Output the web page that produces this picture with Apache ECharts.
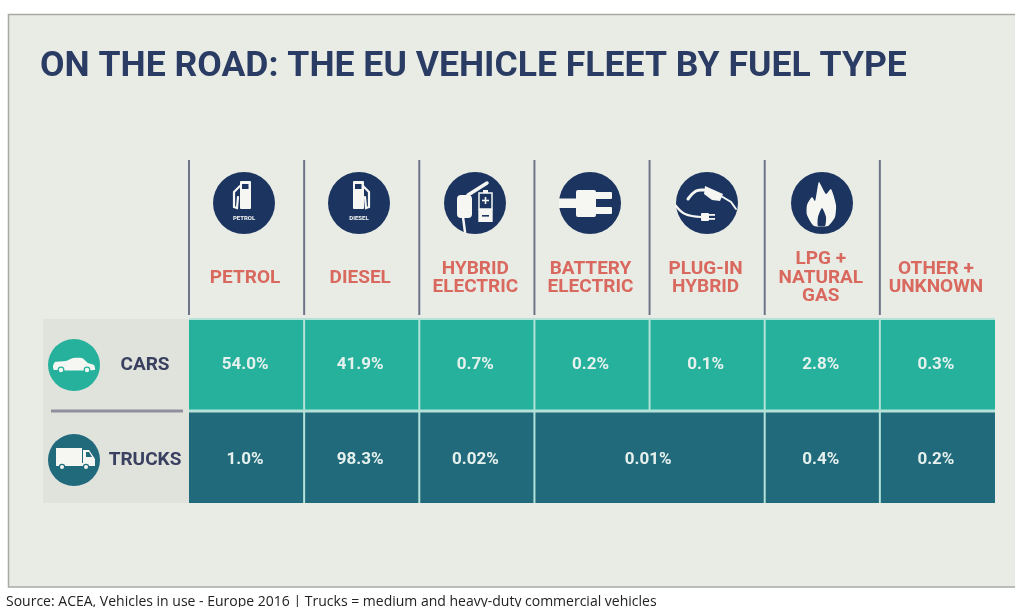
<!DOCTYPE html>
<html><head><meta charset="utf-8">
<style>html,body{margin:0;padding:0;background:#fff}#c{width:1015px;height:607px}</style>
<script src="https://cdn.jsdelivr.net/npm/echarts@6/dist/echarts.min.js"></script>
</head><body><div id="c"></div>
<script>
const titleText = 'ON THE ROAD: THE EU VEHICLE FLEET BY FUEL TYPE';
const sourceText = 'Source: ACEA, Vehicles in use - Europe 2016 | Trucks = medium and heavy-duty commercial vehicles';
const fuelTypes = ['PETROL','DIESEL','HYBRID\nELECTRIC','BATTERY\nELECTRIC','PLUG-IN\nHYBRID','LPG +\nNATURAL\nGAS','OTHER +\nUNKNOWN'];
const vehicleTypes = ['CARS','TRUCKS'];
const carValues   = [54.0, 41.9, 0.7, 0.2, 0.1, 2.8, 0.3];
const carColumns  = [0, 1, 2, 3, 4, 5, 6];
const carSpans    = [1, 1, 1, 1, 1, 1, 1];
const truckValues  = [1.0, 98.3, 0.02, 0.01, 0.4, 0.2];
const truckColumns = [0, 1, 2, 3, 5, 6];
const truckSpans   = [1, 1, 1, 2, 1, 1];

const TEAL='#25b19c', DARK='#206a7c', NAVY='#1b3560', WHITE='#f6f7f3', BG='#e9ebe5', FONT='Roboto, sans-serif';
const fmt = v => v.toFixed(v < 0.1 ? 2 : 1) + '%';
const cells = [];
carValues.forEach((v,i)=>cells.push([carColumns[i],0,carSpans[i],v]));
truckValues.forEach((v,i)=>cells.push([truckColumns[i],1,truckSpans[i],v]));

const fill = c => ({fill:c});
const rect=(x,y,w,h,c=WHITE,r=0)=>({type:'rect',shape:{x,y,width:w,height:h,r},style:fill(c)});
const circ=(cx,cy,r,c=WHITE)=>({type:'circle',shape:{cx,cy,r},style:fill(c)});
const poly=(points,c=WHITE,smooth=0)=>({type:'polygon',shape:{points,smooth},style:fill(c)});
const line=(points,w=1.6,c=WHITE,smooth=0)=>({type:'polyline',shape:{points,smooth},style:{stroke:c,lineWidth:w,fill:null,lineCap:'round'}});

const pump=(label,dir)=>[
  rect(dir>0?-4:-6,-22,11,28,WHITE,1),
  rect(dir>0?-2:-4,-19,6.5,5,NAVY),
  line([[dir*-4,-17],[dir*-10,-11],[dir*-10,4],[dir*-7,5],[dir*-6,-6]],2.2,WHITE),
  {type:'text',style:{text:label,x:0,y:15,fill:WHITE,font:'bold 6px '+FONT,align:'center',verticalAlign:'middle'}}
];
const icons=[
 {x:244,y:203,parts:pump('PETROL',1)},
 {x:359,y:203,parts:pump('DIESEL',-1)},
 {x:475,y:203,parts:[
   rect(-18,-8,15,23,WHITE,4),
   line([[-7,-8],[12,-20]],3.5),
   line([[-12,14],[-10,29]],2.5),
   rect(5,-9,11,14,NAVY),
   {type:'rect',shape:{x:4,y:-10,width:13,height:16},style:{stroke:WHITE,lineWidth:1.5,fill:null}},
   rect(8,-13,5,3),
   rect(9.7,-6,1.6,7), rect(7,-3.3,7,1.6),
   rect(3.3,6,14.4,13),
   rect(7,12,7,1.6,NAVY)
 ]},
 {x:590,y:203,parts:[
   rect(-31,-4.5,19,9.5),
   rect(-14,-13,20,27,WHITE,2),
   rect(5,-11,17,7,WHITE,1),
   rect(5,4,17,7,WHITE,1)
 ]},
 {x:707,y:203,parts:[
   poly([[-2,-17],[16,-9],[13,-2],[5,-3],[-3,-9]]),
   line([[-19,-4],[-11,-12],[-3,-13]],3,WHITE,0.4),
   line([[14,-7],[24,-1],[29,6]],2),
   line([[-31,3],[-22,11],[-6,14]],2.2,WHITE,0.4),
   rect(-6,10,8,8,WHITE,1),
   rect(2,11,6,1.8), rect(2,15,6,1.8)
 ]},
 {x:822,y:203,parts:[
   poly([[-3,-21],[4,-9],[9,-14],[14,2],[13,14],[6,23],[-8,23],[-15,12],[-15,2],[-10,-6],[-7,-2],[-5,-12]],WHITE,0.2),
   poly([[0,5],[4,14],[3,23],[-4,23],[-4,14]],NAVY,0.2)
 ]}
];
const graphics=[
  {type:'rect',shape:{x:8.5,y:14.5,width:1030,height:572.5},style:{fill:BG,stroke:'#a8aaa5',lineWidth:1.5}},
  {type:'rect',shape:{x:43,y:319,width:147,height:184},style:{fill:'#e0e2dc'}},
  {type:'rect',shape:{x:189,y:318,width:806,height:185},style:{fill:'#b4e2d8'}},
  {type:'rect',shape:{x:51,y:409.5,width:132,height:3},style:{fill:'#8d8f9c'}},
  {type:'text',style:{text:sourceText,x:6,y:602,fill:'#222',font:'14px "Open Sans", sans-serif',verticalAlign:'middle'}}
];
for(let i=0;i<7;i++){
  const x=189+i*806/7;
  graphics.push({type:'line',shape:{x1:x,y1:160,x2:x,y2:315},style:{stroke:'#6f7588',lineWidth:2}});
}
icons.forEach(ic=>graphics.push({type:'group',x:ic.x,y:ic.y,children:[circ(0,0,31,NAVY),...ic.parts]}));
graphics.push({type:'group',x:74,y:365,children:[
  circ(0,0,26,TEAL),
  poly([[-21,1],[-19,-3],[-8,-4],[-1,-7],[8,-7],[14,-2],[20,0],[21,5],[-20,5]],WHITE,0.15),
  circ(-13,5,3.4,TEAL),circ(-13,5,2.2),circ(13,5,3.4,TEAL),circ(13,5,2.2)
]});
graphics.push({type:'group',x:74,y:460,children:[
  circ(0,0,26,DARK),
  rect(-18,-12,26,15),
  rect(-18,3,39,3),
  poly([[9,-10],[15,-10],[21,-1],[21,3],[9,3]]),
  poly([[12,-8],[15,-8],[18,-3],[12,-3]],DARK),
  circ(-12,7,3.2,DARK),circ(-12,7,2),circ(12,7,3.2,DARK),circ(12,7,2)
]});

const rowStyle={color:'#3a4160',fontFamily:FONT,fontWeight:'bold',fontSize:19};
const chart=echarts.init(document.getElementById('c'),null,{renderer:'canvas'});
chart.setOption({
  animation:false,
  backgroundColor:'#ffffff',
  title:{text:titleText,left:40,top:49,padding:0,textStyle:{color:'#2a3c63',fontFamily:FONT,fontWeight:'bold',fontSize:35.6}},
  grid:{left:189,top:319,width:806,height:184},
  xAxis:{type:'category',position:'top',data:fuelTypes,
    axisLine:{show:false},axisTick:{show:false},splitLine:{show:false},
    axisLabel:{interval:0,margin:41,verticalAlign:'middle',padding:[0,3,0,0],color:'#d9695f',fontFamily:FONT,fontWeight:'bold',fontSize:19,lineHeight:18.5}},
  yAxis:{type:'category',inverse:true,data:vehicleTypes,
    axisLine:{show:false},axisTick:{show:false},splitLine:{show:false},
    axisLabel:{margin:44,align:'center',...rowStyle,
      formatter:v=>'{'+v+'|'+v+'}',
      rich:{CARS:{...rowStyle},TRUCKS:{...rowStyle,padding:[6,0,0,0]}}}},
  graphic:{elements:graphics},
  series:[{
    type:'custom',
    coordinateSystem:'cartesian2d',
    data:cells,
    encode:{x:0,y:1},
    clip:false,
    renderItem(params,api){
      const col=api.value(0),row=api.value(1),span=api.value(2),val=api.value(3);
      const c=api.coord([col,row]);
      const s=api.size([1,1]);
      const x=c[0]-s[0]/2,y=c[1]-s[1]/2,w=s[0]*span,h=s[1];
      const x0=col>0?x+1:x, x1=col+span<7?x+w-1:x+w;
      const y0=row>0?y+1.5:y+1, y1=row<1?y+h-1.5:y+h;
      return {type:'group',children:[
        {type:'rect',shape:{x:x0,y:y0,width:x1-x0,height:y1-y0},style:{fill:row===0?TEAL:DARK}},
        {type:'text',style:{text:fmt(val),x:x+w/2-1.5,y:c[1]+(row===0?0:3),fill:'#e6f1ee',
          font:'bold 17px '+FONT,align:'center',verticalAlign:'middle'}}
      ]};
    }
  }]
});
</script></body></html>
